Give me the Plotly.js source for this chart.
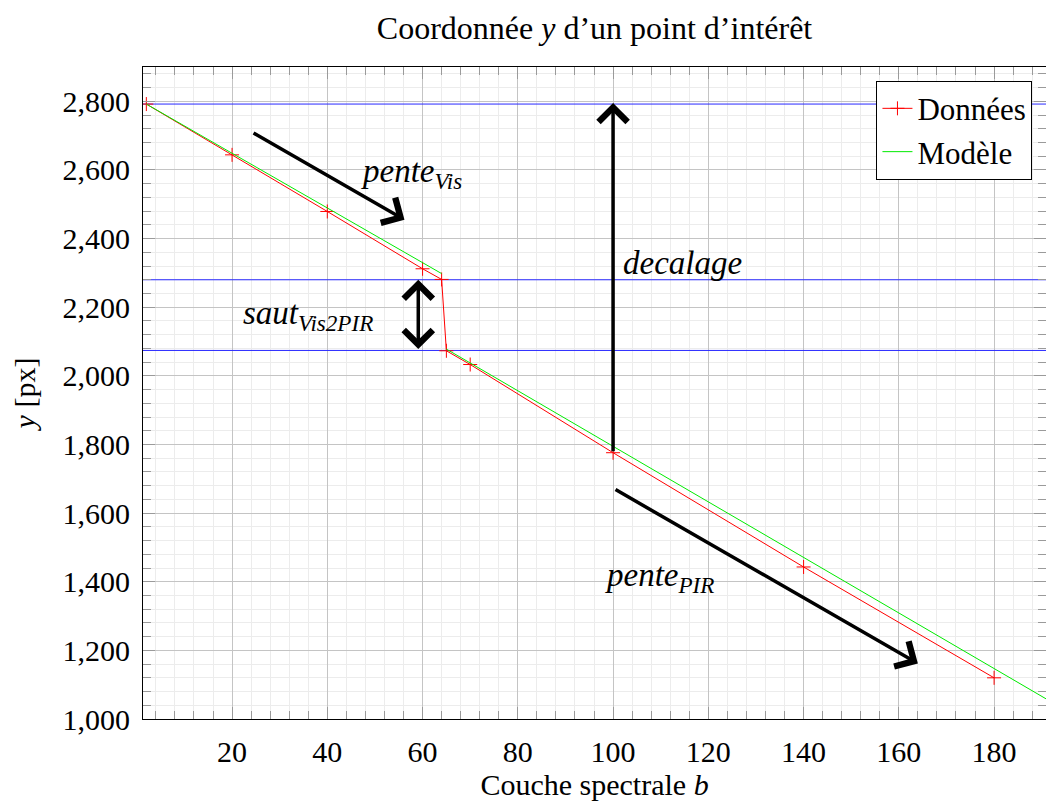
<!DOCTYPE html>
<html><head><meta charset="utf-8">
<script src="https://cdn.plot.ly/plotly-3.0.1.min.js"></script>
<style>body{margin:0;background:#fff}#chart{width:1046px;height:802px}</style>
</head><body><div id="chart"></div>
<script>
// ---- data ----
const bands = [2, 20, 40, 60, 64, 65, 70, 100, 140, 180];
const yData = [2792, 2644, 2479, 2312, 2281, 2073, 2033, 1776, 1443, 1120];
const modelB = [2, 64, null, 65, 191];
const modelY = [2792, 2298, null, 2078, 1058];
const refLevels = [2792, 2280, 2074];
const xTickVals = [20, 40, 60, 80, 100, 120, 140, 160, 180];
const yTickVals = [1000, 1200, 1400, 1600, 1800, 2000, 2200, 2400, 2600, 2800];
const xRange = [1.3, 190.9];
const yRange = [1000, 2900];

// annotation labels and arrows (data coordinates)
const labelTexts = ['<i>pente<sub>Vis</sub></i>', '<i>decalage</i>', '<i>saut<sub>Vis2PIR</sub></i>', '<i>pente<sub>PIR</sub></i>'];
const labelX = [57.7, 114.6, 35.9, 109.8];
const labelY = [2590, 2330, 2175, 1413];
const arrowTailX = [24.2, 100, 59.1, 100.2];
const arrowTailY = [2710, 1776, 2074, 1671];
const arrowTipX = [56.2, 100, 59.1, 164.0];
const arrowTipY = [2455, 2795, 2280, 1162];
const arrowDouble = [false, false, true, false];

const serif = 'Liberation Serif, Times New Roman, serif';

const traces = [];
refLevels.forEach(function (lv) {
  traces.push({x: xRange, y: [lv, lv], mode: 'lines', showlegend: false, hoverinfo: 'skip',
    line: {color: 'rgb(40,40,255)', width: 1}});
});
traces.push({x: bands, y: yData, mode: 'lines+markers', name: 'Données',
  line: {color: 'red', width: 1},
  marker: {symbol: 'cross-thin', size: 10, color: 'red', line: {color: 'red', width: 1}}});
traces.push({x: modelB, y: modelY, mode: 'lines', name: 'Modèle', connectgaps: false,
  line: {color: 'rgb(0,235,0)', width: 1}});

const annotations = [];
labelTexts.forEach(function (t, i) {
  annotations.push({x: labelX[i], y: labelY[i], xref: 'x', yref: 'y', text: t, showarrow: false,
    font: {family: serif, size: 33, color: 'black'}});
});
arrowTipX.forEach(function (tx, i) {
  annotations.push({x: tx, y: arrowTipY[i], ax: arrowTailX[i], ay: arrowTailY[i],
    xref: 'x', yref: 'y', axref: 'x', ayref: 'y', text: '', showarrow: true,
    arrowhead: 4, arrowsize: 1.6, arrowwidth: 3.5, arrowcolor: 'black',
    startarrowhead: 4, startarrowsize: 1.6,
    arrowside: arrowDouble[i] ? 'end+start' : 'end', standoff: 0, startstandoff: 0});
});

const axisCommon = {
  showline: true, linecolor: 'black', linewidth: 1, mirror: 'allticks',
  ticks: 'inside', ticklen: 12, tickcolor: '#9a9a9a', tickwidth: 1,
  showgrid: true, gridcolor: '#c4c4c4', gridwidth: 1, zeroline: false,
  tickfont: {family: serif, size: 30, color: 'black'}
};

const layout = {
  width: 1046, height: 802,
  margin: {l: 143, r: 0, t: 67, b: 83},
  paper_bgcolor: 'white', plot_bgcolor: 'white',
  font: {family: serif, color: 'black'},
  title: {text: 'Coordonnée <i>y</i> d’un point d’intérêt', font: {family: serif, size: 32, color: 'black'},
    x: 0.5, xref: 'paper', y: 1 - 28 / 802, yref: 'container', yanchor: 'middle'},
  xaxis: Object.assign({}, axisCommon, {
    range: xRange, tickmode: 'array', tickvals: xTickVals,
    ticklabelstandoff: 6,
    minor: {dtick: 4, tick0: 0, showgrid: true, gridcolor: '#ececec', ticks: 'inside', ticklen: 8, tickcolor: '#9a9a9a'},
    title: {text: 'Couche spectrale <i>b</i>', font: {family: serif, size: 30, color: 'black'}, standoff: 6}
  }),
  yaxis: Object.assign({}, axisCommon, {
    range: yRange, tickmode: 'array', tickvals: yTickVals, tickformat: ',',
    ticklabelstandoff: 6,
    minor: {dtick: 40, tick0: 0, showgrid: true, gridcolor: '#ececec', ticks: 'inside', ticklen: 8, tickcolor: '#9a9a9a'},
    title: {text: '<i>y</i> [px]', font: {family: serif, size: 30, color: 'black'}, standoff: 18}
  }),
  legend: {x: 0.985, xanchor: 'right', y: 0.979, yanchor: 'top', bgcolor: 'white',
    bordercolor: 'black', borderwidth: 1, font: {family: serif, size: 31, color: 'black'}},
  annotations: annotations
};

Plotly.newPlot('chart', traces, layout, {displayModeBar: false, staticPlot: true});
</script></body></html>
